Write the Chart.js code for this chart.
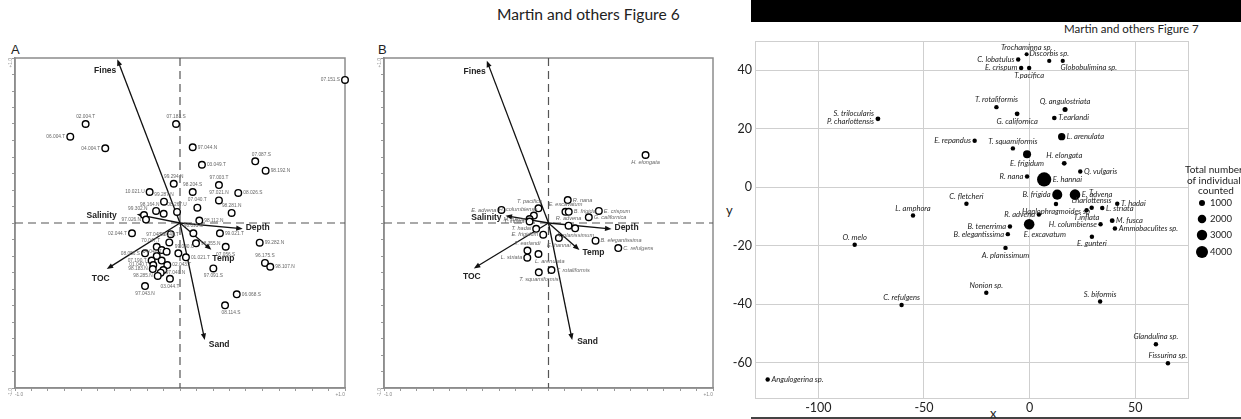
<!DOCTYPE html>
<html>
<head>
<meta charset="utf-8">
<script src="https://cdn.jsdelivr.net/npm/chart.js@4.4.1/dist/chart.umd.min.js"></script>
<style>
  html, body { margin: 0; padding: 0; background: #fff; }
  body { width: 1241px; height: 419px; position: relative; overflow: hidden; font-family: 'Liberation Sans', Arial, sans-serif; }
  .wrap { position: absolute; top: 0; height: 419px; }
  #wrapA { left: 0; width: 370px; }
  #wrapB { left: 370px; width: 370px; }
  #wrap7 { left: 720px; width: 521px; }
  .txt { position: absolute; white-space: nowrap; color: #222; line-height: 1; }
</style>
</head>
<body>

<div class="txt" style="left:497px; top:5px; font:15.6px Lato, sans-serif;">Martin and others Figure 6</div>
<div class="txt" style="left:11px; top:42px; font:13px 'Liberation Sans', sans-serif;">A</div>
<div class="txt" style="left:378px; top:42px; font:13px 'Liberation Sans', sans-serif;">B</div>

<div style="position:absolute; left:751px; top:0; width:490px; height:22px; background:#000;"></div>
<div class="txt" style="left:1064px; top:22px; font:11.5px Lato, sans-serif;">Martin and others Figure 7</div>
<div style="position:absolute; left:751px; top:417px; width:490px; height:1.5px; background:#444;"></div>
<div class="txt" style="left:990px; top:405px; font:13px Lato, sans-serif;">x</div>
<div class="txt" style="left:726px; top:202px; font:13px Lato, sans-serif;">y</div>

<div class="wrap" id="wrapA"><canvas id="chartA" width="370" height="419"></canvas></div>
<div class="wrap" id="wrapB"><canvas id="chartB" width="370" height="419"></canvas></div>
<div class="wrap" id="wrap7"><canvas id="chart7" width="521" height="419"></canvas></div>

<script>
// Figure 6 - environmental arrows (same for A and B)
const envNames = ['Fines', 'Salinity', 'Depth', 'Temp', 'TOC', 'Sand'];
const envX_A = [-0.38, -0.262, 0.38, 0.19, -0.444, 0.15];
const envY_A = [0.992, 0.053, -0.035, -0.162, -0.279, -0.709];
const envX_B = [-0.375, -0.261, 0.383, 0.188, -0.454, 0.144];
const envY_B = [0.984, 0.044, -0.036, -0.164, -0.275, -0.709];

// Figure 6A - stations
const stationLabels = ['07.151.S', '02.004.T', '06.004.T', '04.004.T', '07.183.S', '97.044.N', '03.049.T', '07.087.S',
  '98.192.N', '99.294.N', '97.003.T', '98.204.S', '10.021.U', '08.026.S', '99.287.N', '97.021.N', '07.040.T',
  '98.164.N', '08.267.U', '', '98.281.N', '99.302.N', '97.026.N', '98.112.N', '02.044.T', '97.048.N', '98.095.S',
  '99.021.T', '98.355.N', '07.056.S', '06.040.T', '70.047.T', '', '04.040.T', '08.056.S', '', '99.040.U', '01.021.T',
  '07.190.T', '', '01.040.T', '02.043.T', '98.183.N', '', '97.040.N', '98.285.N', '03.044.T', '97.043.N', '97.091.S',
  '96.175.S', '98.107.N', '99.282.N', '06.068.S', '08.114.S'];
const stationX = [1.0, -0.572, -0.665, -0.453, -0.024, 0.077, 0.133, 0.456,
  0.519, -0.038, 0.236, 0.077, -0.184, 0.353, -0.097, 0.236, 0.105,
  -0.145, -0.018, -0.099, 0.313, -0.218, -0.206, 0.117, -0.291, -0.056, 0.081,
  0.242, 0.097, 0.277, -0.065, -0.141, -0.111, -0.081, -0.212, -0.141, -0.010, 0.036,
  -0.172, -0.111, -0.162, -0.077, -0.165, -0.101, -0.117, -0.135, -0.061, -0.212, 0.202,
  0.515, 0.547, 0.483, 0.344, 0.273];
const stationY = [0.867, 0.600, 0.523, 0.453, 0.600, 0.459, 0.353, 0.374,
  0.317, 0.238, 0.230, 0.188, 0.188, 0.182, 0.129, 0.137, 0.093,
  0.073, 0.067, 0.056, 0.061, 0.048, 0.021, 0.015, -0.062, -0.068, -0.062,
  -0.062, -0.123, -0.144, -0.118, -0.144, -0.164, -0.174, -0.184, -0.200, -0.184, -0.208,
  -0.228, -0.228, -0.255, -0.255, -0.279, -0.285, -0.301, -0.321, -0.338, -0.382, -0.275,
  -0.242, -0.265, -0.119, -0.432, -0.499];

// Figure 6B - species
const speciesB = ['H. elongata', 'R. nana', 'T. pacifica', 'E. excavatum', 'B. frigida', 'E. crispum', 'G. californica',
  'E. advena', 'H. columbiense', 'M. fusca', 'T. inflata', 'T. hadai', 'R. advena', 'A. planissimum', 'E. frigidum',
  'E. hannai', 'B. elegantissima', 'C. refulgens', 'T. earlandi', 'L. arenulata', 'L. striata', 'T. squamiformis',
  'T. rotaliformis'];
const speciesBX = [0.590, 0.117, -0.061, 0.103, 0.123, 0.306, 0.245, -0.286, -0.089, -0.115, -0.115, -0.075, 0.122,
  0.162, -0.032, 0.063, 0.286, 0.424, -0.128, -0.061, -0.129, -0.059, 0.018];
const speciesBY = [0.412, 0.139, 0.089, 0.068, 0.068, 0.073, 0.035, 0.079, 0.045, 0.024, 0.009, -0.035, -0.016,
  -0.032, -0.071, -0.091, -0.107, -0.152, -0.167, -0.188, -0.210, -0.299, -0.285];

// Figure 7 - species ordination with total counts
const species7 = ['Trochaminna sp.', 'C. lobatulus', 'Discorbis sp.', 'Globobulimina sp.', 'E. crispum', 'T.pacifica',
  'T. rotaliformis', 'Q. angulostriata', 'G. californica', 'T.earlandi', 'L. arenulata', 'T. squamiformis',
  'E. frigidum', 'H. elongata', 'Q. vulgaris', 'R. nana', 'E. hannai', 'B. frigida', 'E. advena',
  'Haplophragmoides sp', 'T.\ncharlottensis', 'T.inflata', 'L. striata', 'T. hadai', 'R. advena', 'B. tenerrima',
  'E. excavatum', 'H. columbiense', 'M. fusca', 'Ammobaculites sp.', 'B. elegantissima', 'E. gunteri',
  'A. planissimum', 'Nonion sp.', 'S. biformis', 'Glandulina sp.', 'Fissurina sp.',
  'S. trilocularis\nP. charlottensis', 'E. repandus', 'C. fletcheri', 'L. amphora', 'O. melo', 'C. refulgens',
  'Angulogerina sp.'];
const x7 = [-1.4, -5.4, 9.3, 15.7, -4.0, -0.2, -15.7, 16.8, -5.9, 11.7, 15.2, -7.9, -1.2, 16.4, 24.0, -1.2, 6.9,
  13.1, 21.5, 12.5, 29.4, 27.0, 34.4, 41.5, 4.4, -9.3, -0.2, 33.6, 39.1, 40.4, -10.3, 29.5, -11.4, -20.5, 33.4,
  59.8, 65.5, -71.8, -26.0, -29.9, -55.2, -82.8, -60.6, -124.0];
const y7 = [45.5, 43.7, 43.2, 43.2, 40.8, 40.8, 27.4, 26.6, 25.1, 23.7, 17.3, 13.3, 11.3, 8.2, 5.4, 3.7, 2.7,
  -2.5, -2.5, -5.7, -7.0, -7.8, -7.1, -5.6, -9.3, -13.4, -12.6, -12.6, -11.4, -14.1, -16.0, -16.9, -20.7, -36.0,
  -39.0, -53.6, -60.1, 23.4, 15.9, -5.6, -9.6, -19.6, -40.2, -65.7];
const counts7 = [450, 550, 500, 500, 550, 550, 550, 700, 650, 600, 1500, 550, 1800, 650, 550, 550, 5600,
  2800, 3100, 550, 550, 550, 550, 550, 550, 550, 3100, 550, 650, 550, 550, 550, 550, 550, 550,
  550, 550, 650, 550, 550, 550, 550, 550, 550];
const legendCounts = [1000, 2000, 3000, 4000];
const xTicks7 = [-100, -50, 0, 50];
const yTicks7 = [-60, -40, -20, 0, 20, 40];

// label placement (style only)
const labelPosA = ['l', 't', 'l', 'l', 't', 'r', 'r', 'tr', 'r', 't', 't', 't', 'l', 'r', 't', 't', 't',
  'tl', 't', '', 't', 'tl', 'l', 'r', 'l', 'l', 't', 'r', 'r', 'b', 't', 'tl', '', 'l', 'l', '', 'tr', 'r',
  'l', '', 'l', 'r', 'l', '', 'r', 'l', 'b', 'b', 'b', 't', 'r', 'r', 'r', 'br'];
const labelPosB = ['b', 'r', 'tl', 't', 'r', 'r', 'r', 'l', 'tl', 'l', 'l', 'l', 't', 'b', 'l', 'b', 'r', 'r',
  't', 'br', 'l', 'b', 'r'];
const labelPos7 = ['t', 'l', 't', 'br', 'l', 'b', 't', 't', 'b', 'r', 'r', 't', 'b', 't', 'r', 'l', 'r', 'l', 'r',
  'b', 't', 'b', 'r', 'r', 'l', 'l', 'br', 'l', 'r', 'r', 'l', 'b', 'b', 't', 't', 't', 't', 'l', 'l', 't', 't',
  't', 't', 'r'];
const envDxA = [-1, -20, 3, 1, -6, 4], envDyA = [11, 1, -1, 9, 10, 5];
const envDxB = [-1, -4, 3, 3, -2, 5], envDyB = [11, 2, -1, 3, 8, 2];

function bubbleRadius(n) {
  return 0.095 * Math.sqrt(n);
}

function drawLabel(ctx, text, px, py, r, pos, lineH) {
  if (!text || !pos) return;
  const lines = text.split('\n');
  let x = px, y = py;
  ctx.textBaseline = 'middle';
  if (pos === 'l') { ctx.textAlign = 'right'; x = px - r - 1.5; y = py - (lines.length - 1) * lineH * 0.6; }
  else if (pos === 'r') { ctx.textAlign = 'left'; x = px + r + 1.5; }
  else if (pos === 't') { ctx.textAlign = 'center'; y = py - r - 1 - lineH * (lines.length - 0.5); }
  else if (pos === 'b') { ctx.textAlign = 'center'; y = py + r + 1 + lineH * 0.5; }
  else if (pos === 'tl') { ctx.textAlign = 'right'; x = px + r; y = py - r - lineH * 0.5; }
  else if (pos === 'tr') { ctx.textAlign = 'left'; x = px - r; y = py - r - lineH * 0.5; }
  else if (pos === 'br') { ctx.textAlign = 'left'; x = px - r; y = py + r + lineH * 0.6; }
  lines.forEach((ln, i) => ctx.fillText(ln, x, y + i * lineH));
}

function makeBiplotPlugin(envX, envY, envDx, envDy, labels, positions, labelFont) {
  return {
    id: 'biplot',
    beforeDatasetsDraw(chart) {
      const { ctx, chartArea: a, scales: { x, y } } = chart;
      const x0 = x.getPixelForValue(0), y0 = y.getPixelForValue(0);
      ctx.save();
      ctx.strokeStyle = '#8c8c8c';
      ctx.lineWidth = 1.5;
      ctx.strokeRect(a.left, a.top, a.right - a.left, a.bottom - a.top);
      // dashed origin lines
      ctx.setLineDash([8, 5]);
      ctx.strokeStyle = '#555';
      ctx.lineWidth = 1.2;
      ctx.beginPath();
      ctx.moveTo(x0, a.top); ctx.lineTo(x0, a.bottom);
      ctx.moveTo(a.left, y0); ctx.lineTo(a.right, y0);
      ctx.stroke();
      ctx.setLineDash([]);
      // environmental arrows
      ctx.strokeStyle = '#111';
      ctx.fillStyle = '#111';
      ctx.lineWidth = 1.3;
      ctx.font = 'bold 8.5px "Liberation Sans", Arial, sans-serif';
      envNames.forEach((name, i) => {
        const hx = x.getPixelForValue(envX[i]), hy = y.getPixelForValue(envY[i]);
        const ang = Math.atan2(hy - y0, hx - x0);
        ctx.beginPath();
        ctx.moveTo(x0, y0);
        ctx.lineTo(hx - 4 * Math.cos(ang), hy - 4 * Math.sin(ang));
        ctx.stroke();
        ctx.beginPath();
        ctx.moveTo(hx, hy);
        ctx.lineTo(hx - 6.5 * Math.cos(ang) + 2.6 * Math.sin(ang), hy - 6.5 * Math.sin(ang) - 2.6 * Math.cos(ang));
        ctx.lineTo(hx - 6.5 * Math.cos(ang) - 2.6 * Math.sin(ang), hy - 6.5 * Math.sin(ang) + 2.6 * Math.cos(ang));
        ctx.closePath();
        ctx.fill();
        ctx.textBaseline = 'middle';
        ctx.textAlign = envDx[i] < 0 ? 'right' : 'left';
        if (name === 'TOC') ctx.textAlign = 'center';
        ctx.fillStyle = '#222';
        ctx.fillText(name, hx + envDx[i], hy + envDy[i]);
        ctx.fillStyle = '#111';
      });
      ctx.restore();
    },
    afterDatasetsDraw(chart) {
      const { ctx } = chart;
      const meta = chart.getDatasetMeta(0);
      ctx.save();
      ctx.font = labelFont;
      ctx.fillStyle = '#666';
      meta.data.forEach((pt, i) => drawLabel(ctx, labels[i], pt.x, pt.y, 3.5, positions[i], 6));
      ctx.restore();
    }
  };
}

function biplotConfig(xs, ys, yWidth, padRight, plugin) {
  const unitTick = v => (Math.abs(v - 1) < 1e-6 ? '+1.0' : (Math.abs(v + 1) < 1e-6 ? '-1.0' : ''));
  const tickFont = { size: 4.8, family: '"Liberation Sans", Arial, sans-serif' };
  return {
    type: 'scatter',
    data: {
      datasets: [{
        data: xs.map((v, i) => ({ x: v, y: ys[i] })),
        pointRadius: 3.3,
        pointBackgroundColor: '#fff',
        pointBorderColor: '#000',
        pointBorderWidth: 1.4,
        clip: false
      }]
    },
    options: {
      responsive: false,
      animation: false,
      events: [],
      layout: { padding: { left: 0, top: 58, right: padRight, bottom: 11 } },
      plugins: { legend: { display: false }, tooltip: { enabled: false } },
      scales: {
        x: {
          type: 'linear', min: -1, max: 1,
          afterFit: s => { s.height = 20; },
          ticks: { stepSize: 0.1, autoSkip: false, maxRotation: 0, align: 'inner', padding: 1,
            color: '#888', font: tickFont, callback: unitTick },
          grid: { drawOnChartArea: false, drawTicks: true, tickLength: 3, tickColor: '#999' },
          border: { display: true, color: '#8c8c8c', width: 1.5 }
        },
        y: {
          type: 'linear', min: -1, max: 1,
          afterFit: s => { s.width = yWidth; },
          ticks: { stepSize: 0.1, autoSkip: false, minRotation: 90, maxRotation: 90, padding: 1,
            color: '#888', font: tickFont, callback: unitTick },
          grid: { drawOnChartArea: false, drawTicks: true, tickLength: 3, tickColor: '#999' },
          border: { display: true, color: '#8c8c8c', width: 1.5 }
        }
      }
    },
    plugins: [plugin]
  };
}

new Chart(document.getElementById('chartA'), biplotConfig(stationX, stationY, 15, 25,
  makeBiplotPlugin(envX_A, envY_A, envDxA, envDyA, stationLabels, labelPosA, '4.8px "Liberation Sans", Arial, sans-serif')));

new Chart(document.getElementById('chartB'), biplotConfig(speciesBX, speciesBY, 14, 27,
  makeBiplotPlugin(envX_B, envY_B, envDxB, envDyB, speciesB, labelPosB, 'italic 5.6px "Liberation Sans", Arial, sans-serif')));

// Figure 7
const fig7Plugin = {
  id: 'fig7',
  beforeDatasetsDraw(chart) {
    const { ctx, chartArea: a } = chart;
    ctx.save();
    ctx.strokeStyle = '#cfcfcf';
    ctx.lineWidth = 1;
    ctx.strokeRect(a.left + 0.5, a.top + 0.5, a.right - a.left, a.bottom - a.top);
    ctx.restore();
  },
  afterDatasetsDraw(chart) {
    const { ctx } = chart;
    const meta = chart.getDatasetMeta(0);
    ctx.save();
    ctx.font = 'italic 7.6px Lato, sans-serif';
    ctx.fillStyle = '#222';
    meta.data.forEach((pt, i) => drawLabel(ctx, species7[i], pt.x, pt.y, bubbleRadius(counts7[i]), labelPos7[i], 8));
    // legend for bubble sizes
    const lx = 1202 - 720;
    ctx.font = '10px Lato, sans-serif';
    ctx.textAlign = 'center';
    ctx.textBaseline = 'middle';
    ['Total numbers', 'of individuals', 'counted'].forEach((t, i) => ctx.fillText(t, 1216 - 720, 170 + i * 10.5));
    ctx.font = '9.5px Lato, sans-serif';
    legendCounts.forEach((n, i) => {
      const ly = [203, 219, 235, 252][i];
      ctx.beginPath();
      ctx.arc(lx, ly, bubbleRadius(n), 0, Math.PI * 2);
      ctx.fillStyle = '#000';
      ctx.fill();
      ctx.fillStyle = '#222';
      ctx.textAlign = 'left';
      ctx.fillText(String(n), lx + 8, ly);
    });
    ctx.restore();
  }
};

new Chart(document.getElementById('chart7'), {
  type: 'bubble',
  data: {
    datasets: [{
      data: x7.map((v, i) => ({ x: v, y: y7[i], r: bubbleRadius(counts7[i]) })),
      backgroundColor: '#000',
      borderColor: '#000',
      borderWidth: 0,
      clip: false
    }]
  },
  options: {
    responsive: false,
    animation: false,
    events: [],
    layout: { padding: { left: 0, top: 41, right: 53, bottom: 0 } },
    plugins: { legend: { display: false }, tooltip: { enabled: false } },
    scales: {
      x: {
        type: 'linear', min: -130, max: 75,
        afterFit: s => { s.height = 21; },
        afterBuildTicks: s => { s.ticks = xTicks7.map(v => ({ value: v })); },
        ticks: { padding: 2, color: '#222', font: { size: 12.5, family: 'Lato, sans-serif' } },
        grid: { color: '#cfcfcf', drawTicks: false },
        border: { display: false }
      },
      y: {
        type: 'linear', min: -72, max: 50,
        afterFit: s => { s.width = 35; },
        afterBuildTicks: s => { s.ticks = yTicks7.map(v => ({ value: v })); },
        ticks: { padding: 3, color: '#222', font: { size: 12.5, family: 'Lato, sans-serif' } },
        grid: { color: '#cfcfcf', drawTicks: false },
        border: { display: false }
      }
    }
  },
  plugins: [fig7Plugin]
});
</script>
</body>
</html>
